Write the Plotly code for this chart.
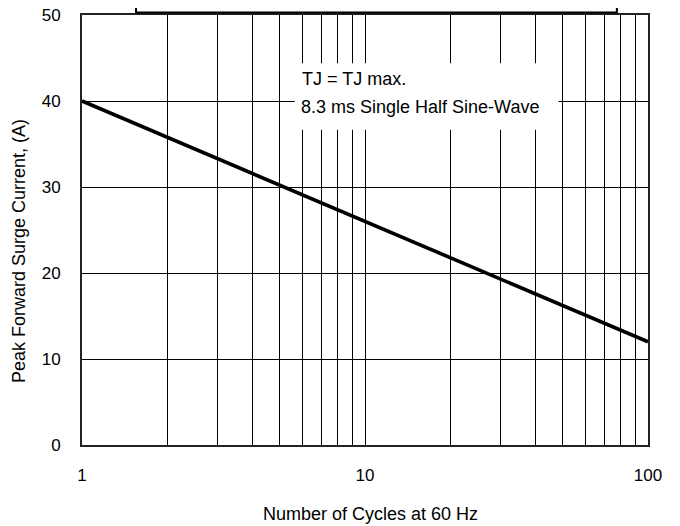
import plotly.graph_objects as go

cycles = [1, 100]
surge_current = [40, 12]

x_major_ticks = [1, 10, 100]
x_tick_labels = ["1", "10", "100"]
x_minor_grid = [2, 3, 4, 5, 6, 7, 8, 9, 20, 30, 40, 50, 60, 70, 80, 90]
y_ticks = [0, 10, 20, 30, 40, 50]

FONT = "Liberation Sans, Arial, sans-serif"

# The page body has an 8px default margin, so the figure is shrunk by 8px
# and its margins are reduced so the plot lands at the reference position.
fig = go.Figure()
fig.add_trace(go.Scatter(
    x=cycles, y=surge_current, mode="lines",
    line=dict(color="black", width=3.6),
    showlegend=False, hoverinfo="skip",
))

fig.update_layout(
    width=672, height=518,
    margin=dict(l=74, r=32, t=7, b=81, autoexpand=False),
    paper_bgcolor="white", plot_bgcolor="white",
    font=dict(family=FONT, size=17, color="black"),
    xaxis=dict(
        type="log", range=[0, 2], automargin=False,
        tickvals=x_major_ticks, ticktext=x_tick_labels,
        showgrid=True, gridcolor="black", gridwidth=1,
        minor=dict(tickvals=x_minor_grid, showgrid=True, gridcolor="black", gridwidth=1, ticklen=0),
        showline=True, linecolor="#222", linewidth=2, mirror=True,
        ticks="", ticklabelstandoff=14, zeroline=False,
        ticklabeloverflow="allow",
        tickfont=dict(size=17),
    ),
    yaxis=dict(
        range=[0, 50], tickvals=y_ticks, automargin=False,
        showgrid=True, gridcolor="black", gridwidth=1,
        showline=True, linecolor="#222", linewidth=2, mirror=True,
        ticks="", ticklabelstandoff=16, zeroline=False,
        ticklabeloverflow="allow",
        tickfont=dict(size=17),
    ),
    shapes=[
        dict(type="rect", xref="paper", yref="paper",
             x0=0.0954, x1=0.945, y0=1.0056, y1=1.2,
             line=dict(color="black", width=2), fillcolor="white", layer="above"),
        dict(type="rect", xref="paper", yref="paper",
             x0=0.376, x1=0.842, y0=0.733, y1=0.888,
             line=dict(width=0), fillcolor="white", layer="above"),
    ],
    annotations=[
        dict(text="TJ = TJ max.", xref="paper", yref="paper",
             x=(300 - 82) / 566, y=(445 - 79) / 430, xanchor="left", yanchor="middle",
             showarrow=False, font=dict(size=18)),
        dict(text="8.3 ms Single Half Sine-Wave", xref="paper", yref="paper",
             x=(299 - 82) / 566, y=(445 - 107) / 430, xanchor="left", yanchor="middle",
             showarrow=False, font=dict(size=18)),
        dict(text="Number of Cycles at 60 Hz", xref="paper", yref="paper",
             x=(370 - 82) / 566, y=(445 - 514) / 430, xanchor="center", yanchor="middle",
             showarrow=False, font=dict(size=18)),
        dict(text="Peak Forward Surge Current, (A)", xref="paper", yref="paper",
             x=(19 - 82) / 566, y=(445 - 251) / 430, xanchor="center", yanchor="middle",
             textangle=-90, showarrow=False, font=dict(size=18)),
    ],
)

fig.write_html("out.html")
